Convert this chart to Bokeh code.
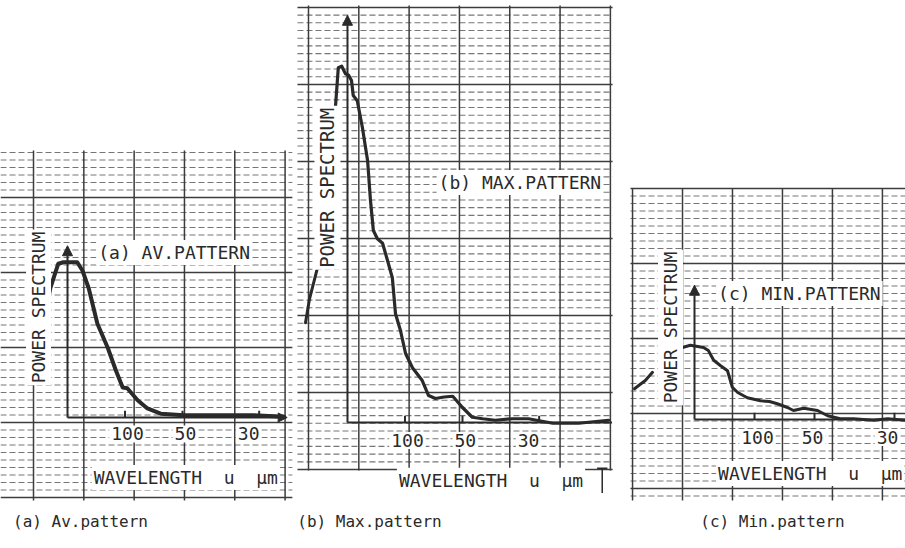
import numpy as np
from bokeh.plotting import figure
from bokeh.layouts import row
from bokeh.models import Label, Arrow, NormalHead
from bokeh.embed import file_html
from bokeh.resources import INLINE

# ---------------- data ----------------
# x: spatial frequency (1/mm) = 1000 / wavelength (um); y: power (chart divisions)
tick_wavelengths = [100, 50, 30]
tick_labels = ["100", "50", "30"]
y_title = "POWER SPECTRUM"
x_title = "WAVELENGTH\u00a0\u00a0u\u00a0\u00a0\u00b5m"

a_freq = [-3.5, -3.0, -1.6, -0.7, 1.7, 2.6, 3.7, 5.2, 7.0, 8.4, 9.6, 10.4,
          12.2, 13.9, 16.2, 20.2, 26.1, 32.4, 37.6]
a_power = [15.2, 17.2, 20.5, 20.7, 20.7, 19.6, 17.2, 12.5, 9.3, 6.3, 4.0, 3.9,
           2.3, 1.2, 0.5, 0.3, 0.3, 0.3, 0.1]

b_freq = [-2.1, -1.6, -1.0, -0.35, 0.2, 0.7, 1.0, 1.7, 2.6, 3.5,
          4.0, 4.5, 5.2, 6.1, 7.0, 7.8, 8.35, 9.2, 10.1, 11.3,
          12.3, 13.0, 14.1, 15.3, 16.8, 18.3, 20.0, 21.7, 23.5, 25.7,
          28.7, 31.5, 35.7, 40.2, 45.4]
b_power = [42.0, 47.3, 47.5, 46.5, 46.3, 45.6, 43.6, 42.9, 39.3, 34.9,
           29.6, 25.6, 24.5, 23.9, 21.5, 19.3, 14.5, 12.3, 9.2, 7.3,
           6.3, 5.6, 3.6, 3.2, 3.4, 3.5, 2.0, 0.7, 0.5, 0.3,
           0.5, 0.5, -0.1, -0.1, 0.3]
b_lead_freq = [-7.3, -6.6, -5.0]
b_lead_power = [13.3, 16.5, 21.3]

c_freq = [-2.0, -0.7, 1.5, 2.3, 3.2, 4.3, 5.5, 6.3, 7.2, 8.8,
          11.0, 12.5, 13.8, 15.5, 16.5, 18.2, 20.5, 22.2, 24.3, 26.5,
          29.8, 32.2, 35.0]
c_power = [9.6, 9.9, 9.6, 9.2, 7.9, 7.2, 6.5, 4.3, 3.6, 2.9,
           2.5, 2.4, 2.1, 1.6, 1.2, 1.5, 1.2, 0.5, 0.1, 0.1,
           -0.1, 0.1, -0.1]
c_lead_freq = [-10.0, -9.2, -8.2, -7.0]
c_lead_power = [4.1, 4.6, 5.2, 6.3]

titles = ["(a) AV.PATTERN", "(b) MAX.PATTERN", "(c) MIN.PATTERN"]
captions = ["(a) Av.pattern", "(b) Max.pattern", "(c) Min.pattern"]

# ---------------- styling ----------------
FONT = "DejaVu Sans Mono"
INK = "#2a2a2a"
GRID = "#3c3c3c"
MINOR = "#767676"
H = 548


def make_fig(width, xr, yr):
    p = figure(width=width, height=H, x_range=xr, y_range=yr,
               output_backend="svg", toolbar_location=None, min_border=0,
               x_axis_location=None, y_axis_location=None,
               background_fill_color="white", border_fill_color="white")
    p.outline_line_color = None
    p.grid.visible = False
    return p


def paper(p, x0, x1, y0, y1, vx0, vstep, hy0, hstep):
    kv = np.arange(np.ceil((x0 - vx0) / vstep), np.floor((x1 - vx0) / vstep) + 1)
    vx = vx0 + kv * vstep
    ms = hstep / 10.0
    kh = np.arange(np.ceil((y0 - hy0) / ms), np.floor((y1 - hy0) / ms) + 1).astype(int)
    hy = hy0 + kh * ms
    major = (kh % 10) == 0
    p.segment(x0=x0, y0=hy[~major], x1=x1, y1=hy[~major], line_color=MINOR,
              line_width=1.1, line_dash="6 3")
    p.segment(x0=x0, y0=hy[major], x1=x1, y1=hy[major], line_color=GRID,
              line_width=1.5)
    p.segment(x0=vx, y0=y0, x1=vx, y1=y1, line_color=GRID, line_width=1.5)


def txt(p, x, y, text, size="18px", align="left", angle=0.0, bg="white"):
    p.add_layout(Label(x=x, y=y, text=text, text_font=FONT, text_font_size=size,
                       text_color=INK, text_align=align, text_baseline="middle",
                       angle=angle, background_fill_color=bg, padding=2))


def axes(p, top, right, right_arrow):
    p.add_layout(Arrow(end=NormalHead(size=10, fill_color=INK, line_color=INK),
                       x_start=0, y_start=0, x_end=0, y_end=top,
                       line_color=INK, line_width=2))
    if right_arrow:
        p.add_layout(Arrow(end=NormalHead(size=9, fill_color=INK, line_color=INK),
                           x_start=0, y_start=0, x_end=right, y_end=0,
                           line_color=INK, line_width=2))
    else:
        p.segment(x0=0, y0=0, x1=right, y1=0, line_color=INK, line_width=2)
    tf = [1000.0 / w for w in tick_wavelengths]
    p.segment(x0=tf, y0=0, x1=tf, y1=0.9, line_color=INK, line_width=2)


# ---------------- panel (a) ----------------
pa = make_fig(295, (-11.65, 39.65), (-17.47, 55.6))
paper(pa, -11.65, 39.1, -11.07, 35.6, -5.91, 8.75, -0.67, 10.0)
axes(pa, 22.9, 38.2, True)
pa.line(a_freq, a_power, line_color=INK, line_width=4, line_join="round", line_cap="round")
txt(pa, 5.0, 22.0, titles[0])
txt(pa, -5.04, 14.67, y_title, angle=np.pi / 2, align="center")
for lx, lab in zip([10.43, 20.5, 31.5], tick_labels):
    txt(pa, lx, -2.2, lab, align="center")
txt(pa, 4.2, -8.0, x_title)
txt(pa, 2.26, -13.9, captions[0], size="16px", align="center")

# ---------------- panel (b) ----------------
pb = make_fig(323, (-9.04, 47.13), (-16.8, 56.27))
paper(pb, -8.7, 46.1, -6.4, 55.6, -6.78, 8.75, 4.0, 10.27)
axes(pb, 54.3, 46.0, False)
pb.line(b_lead_freq, b_lead_power, line_color=INK, line_width=3, line_cap="round")
pb.line(b_freq, b_power, line_color=INK, line_width=3.2, line_join="round", line_cap="round")
txt(pb, 15.5, 32.0, titles[1])
txt(pb, -3.48, 31.3, y_title, size="19px", angle=np.pi / 2, align="center")
for lx, lab in zip([10.43, 20.5, 31.5], tick_labels):
    txt(pb, lx, -2.4, lab, align="center")
txt(pb, 8.6, -7.7, x_title)
pb.segment(x0=44.3, y0=-6.1, x1=44.3, y1=-9.4, line_color=INK, line_width=1.5)
pb.segment(x0=43.4, y0=-6.1, x1=45.2, y1=-6.1, line_color=INK, line_width=1.5)
txt(pb, 3.83, -13.2, captions[1], size="16px", align="center")

# ---------------- panel (c) ----------------
pc = make_fig(287, (-12.67, 35.17), (-17.2, 55.87))
paper(pc, -10.67, 35.2, -10.8, 30.8, -2.0, 8.33, 0.8, 10.0)
axes(pc, 17.9, 35.2, False)
pc.line(c_lead_freq, c_lead_power, line_color=INK, line_width=3, line_cap="round")
pc.line(c_freq, c_power, line_color=INK, line_width=3, line_join="round", line_cap="round")
txt(pc, 3.6, 16.8, titles[2])
txt(pc, -4.0, 12.27, y_title, angle=np.pi / 2, align="center")
for lx, lab in zip([10.5, 19.67, 32.17], tick_labels):
    txt(pc, lx, -2.4, lab, align="center")
txt(pc, 3.6, -7.2, x_title)
txt(pc, 13.0, -13.6, captions[2], size="16px", align="center")

layout = row(pa, pb, pc)
open("out.html", "w").write(file_html(layout, INLINE))
